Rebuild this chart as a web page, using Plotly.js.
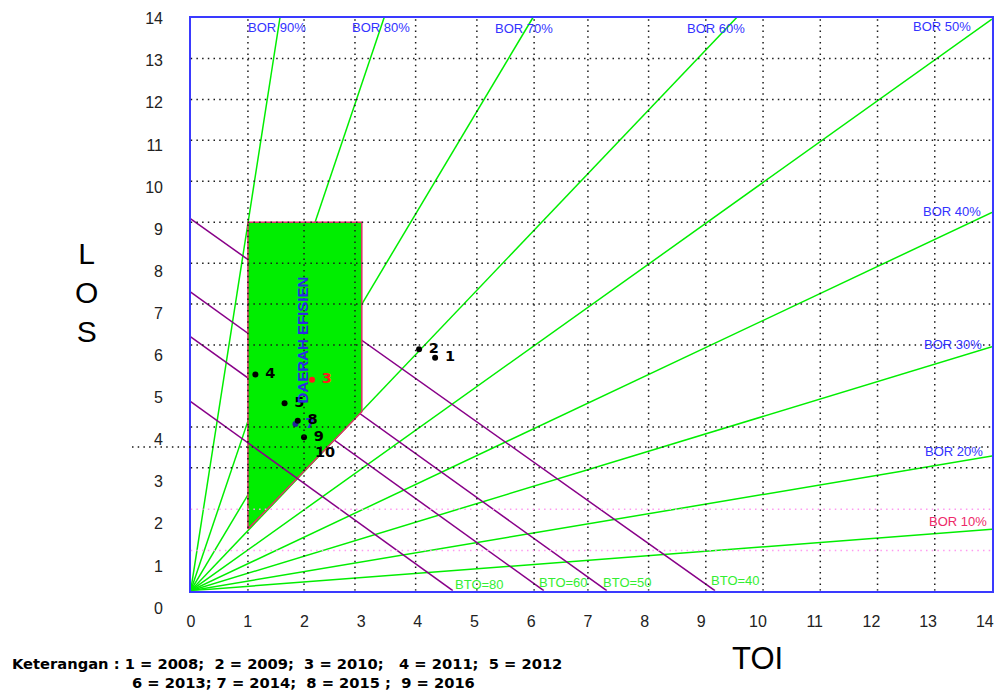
<!DOCTYPE html>
<html>
<head>
<meta charset="utf-8">
<script src="https://cdn.plot.ly/plotly-3.0.1.min.js"></script>
<style>
  html, body { margin: 0; padding: 0; background: #fff; }
  #chart { width: 1001px; height: 691px; }
</style>
</head>
<body>
<div id="chart"></div>
<script>
// ---- Data (Barber-Johnson graph) ----
const borNames  = ['BOR 90%', 'BOR 80%', 'BOR 70%', 'BOR 60%', 'BOR 50%', 'BOR 40%', 'BOR 30%', 'BOR 20%', 'BOR 10%'];
const borEndTOI = [1.56, 3.38, 5.98, 9.54, 14, 14, 14, 14, 14];
const borEndLOS = [14, 14, 14, 14, 13.96, 9.24, 5.96, 3.29, 1.50];
const borLabelTOI = [1.51, 3.32, 5.82, 9.18, 13.13, 13.30, 13.32, 13.34, 13.41];
const borLabelLOS = [13.75, 13.75, 13.72, 13.74, 13.77, 9.26, 6.02, 3.40, 1.69];

const btoNames  = ['BTO=40', 'BTO=50', 'BTO=60', 'BTO=80'];
const btoLOSat0 = [9.08, 7.29, 6.20, 4.62];
const btoTOIat0 = [9.16, 7.27, 6.17, 4.58];
const btoLabelTOI = [9.51, 7.64, 6.52, 5.04];
const btoLabelLOS = [0.24, 0.21, 0.19, 0.14];

const efisienTOI = [1.0, 1.0, 2.99, 2.99, 1.0];
const efisienLOS = [1.51, 9.0, 9.0, 4.37, 1.51];

const pointLabels = ['1', '2', '3', '4', '5', '7', '8', '9', '10'];
const pointTOI = [4.27, 3.99, 2.12, 1.13, 1.64, 1.83, 1.87, 1.98, 2.00];
const pointLOS = [5.69, 5.90, 5.15, 5.28, 4.58, 4.07, 4.15, 3.75, 3.36];

const gridTOI = [1, 1.98, 2.87, 3.93, 5, 6, 6.94, 8, 9, 10, 11, 12, 13];
const gridLOS = [3, 4, 6, 7, 8, 9, 10, 11, 12, 13];
const pinkGridLOS = [0.98, 1.99];
const extraGridLOS = [3.51];

const tickValues = [0, 1, 2, 3, 4, 5, 6, 7, 8, 9, 10, 11, 12, 13, 14];
const tickLabels = ['0', '1', '2', '3', '4', '5', '6', '7', '8', '9', '10', '11', '12', '13', '14'];

const keteranganLine1 = 'Keterangan : 1 = 2008;  2 = 2009;  3 = 2010;   4 = 2011;  5 = 2012';
const keteranganLine2 = '6 = 2013; 7 = 2014;  8 = 2015 ;  9 = 2016';

// ---- Styles ----
const W = 1001, H = 691;
const px = v => v / W;
const py = v => 1 - v / H;
const GREEN = '#00ee00';
const PURPLE = '#880088';
const BLUE = '#3333ff';
const nb = s => s.replace(/ /g, '\u00A0');

const traces = [];

// BOR lines from origin
borNames.forEach((n, i) => {
  traces.push({
    x: [0, borEndTOI[i]], y: [0, borEndLOS[i]],
    mode: 'lines', line: { color: GREEN, width: 1.5 },
    hoverinfo: 'skip', showlegend: false, name: n
  });
});

// BTO lines hidden under the efficient area (40, 50, 60)
btoNames.forEach((n, i) => {
  if (n === 'BTO=80') return;
  traces.push({
    x: [0, btoTOIat0[i]], y: [btoLOSat0[i], 0],
    mode: 'lines', line: { color: PURPLE, width: 1.5 },
    hoverinfo: 'skip', showlegend: false, name: n
  });
});

// Efficient area
traces.push({
  x: efisienTOI, y: efisienLOS, mode: 'lines', fill: 'toself',
  fillcolor: GREEN, line: { color: '#e0306a', width: 1.5 },
  hoverinfo: 'skip', showlegend: false, name: 'Daerah Efisien'
});

// BTO=80 line drawn over the area
btoNames.forEach((n, i) => {
  if (n !== 'BTO=80') return;
  traces.push({
    x: [0, btoTOIat0[i]], y: [btoLOSat0[i], 0],
    mode: 'lines', line: { color: PURPLE, width: 1.5 },
    hoverinfo: 'skip', showlegend: false, name: n
  });
});

// Points
const markerColor = pointLabels.map(l => l === '3' ? '#ff1a1a' : (l === '7' ? '#22229a' : (l === '10' ? 'rgba(0,0,0,0)' : '#000000')));
const textColor = pointLabels.map(l => l === '3' ? '#ff1a1a' : (l === '7' ? '#3333cc' : '#000000'));
traces.push({
  x: pointTOI, y: pointLOS, text: pointLabels,
  mode: 'markers+text', textposition: 'middle right',
  marker: { size: 6, color: markerColor },
  textfont: { family: 'DejaVu Sans', size: 14.5, color: textColor, weight: 'bold' },
  texttemplate: '<b>\u00A0%{text}</b>',
  hoverinfo: 'x+y+text', showlegend: false, name: 'Tahun'
});

// Empty trace for the tick-label subplot
traces.push({ x: [], y: [], xaxis: 'x2', yaxis: 'y2', showlegend: false, hoverinfo: 'skip' });

// Gridlines (above the area) as shapes
const shapes = [];
const dotted = { color: '#1a1a1a', width: 1.5, dash: '1.5px,4.2px' };
gridTOI.forEach(v => shapes.push({ type: 'line', xref: 'x', yref: 'y', x0: v, x1: v, y0: 0, y1: 14, line: dotted, layer: 'above' }));
gridLOS.forEach(v => shapes.push({ type: 'line', xref: 'x', yref: 'y', x0: 0, x1: 14, y0: v, y1: v, line: dotted, layer: 'above' }));
extraGridLOS.forEach(v => shapes.push({ type: 'line', xref: 'paper', yref: 'y', x0: px(132), x1: px(992), y0: v, y1: v, line: dotted, layer: 'above' }));
pinkGridLOS.forEach(v => shapes.push({ type: 'line', xref: 'x', yref: 'y', x0: 0, x1: 14, y0: v, y1: v, line: { color: '#ff99f0', width: 1.5, dash: '1.5px,4.2px' }, layer: 'above' }));

// Annotations
const annotations = [];
borNames.forEach((n, i) => annotations.push({
  x: borLabelTOI[i], y: borLabelLOS[i], xref: 'x', yref: 'y', text: n, showarrow: false,
  xanchor: 'center', yanchor: 'middle',
  font: { family: 'Liberation Sans, Arial', size: 13, color: n === 'BOR 10%' ? '#ee2a6a' : BLUE }
}));
btoNames.forEach((n, i) => annotations.push({
  x: btoLabelTOI[i], y: btoLabelLOS[i], xref: 'x', yref: 'y', text: n, showarrow: false,
  xanchor: 'center', yanchor: 'middle',
  font: { family: 'Liberation Sans, Arial', size: 13, color: '#33ee33' }
}));
annotations.push({
  x: 1.95, y: 6.12, xref: 'x', yref: 'y', text: '<b>DAERAH EFISIEN</b>', textangle: -90, showarrow: false,
  xanchor: 'center', yanchor: 'middle',
  font: { family: 'Liberation Sans, Arial', size: 15, color: '#2a2ae6' }
});
annotations.push({
  x: px(757), y: py(658), xref: 'paper', yref: 'paper', xanchor: 'center', yanchor: 'middle',
  text: 'TOI', showarrow: false,
  font: { family: 'Liberation Sans, Arial', size: 31, color: '#000' }
});
annotations.push({
  x: px(86), y: py(292), xref: 'paper', yref: 'paper', xanchor: 'center', yanchor: 'middle',
  text: 'L<br>O<br>S', showarrow: false,
  font: { family: 'Liberation Sans, Arial', size: 30, color: '#000' }
});
annotations.push({
  x: px(10), y: py(663), xref: 'paper', yref: 'paper', xanchor: 'left', yanchor: 'middle',
  text: '<b>' + nb(keteranganLine1) + '</b>', showarrow: false,
  font: { family: 'DejaVu Sans', size: 14.7, color: '#000' }
});
annotations.push({
  x: px(130), y: py(682), xref: 'paper', yref: 'paper', xanchor: 'left', yanchor: 'middle',
  text: '<b>' + nb(keteranganLine2) + '</b>', showarrow: false,
  font: { family: 'DejaVu Sans', size: 14.7, color: '#000' }
});

const layout = {
  width: W, height: H,
  margin: { l: 0, r: 0, t: 0, b: 0 },
  paper_bgcolor: '#ffffff', plot_bgcolor: 'rgba(0,0,0,0)',
  showlegend: false,
  xaxis: {
    domain: [px(190.7), px(992)], range: [0, 14], showgrid: false, zeroline: false,
    showticklabels: false, ticks: '', showline: true, mirror: true, linecolor: '#3a3aff', linewidth: 2, fixedrange: true
  },
  yaxis: {
    domain: [py(590.7), py(17.5)], range: [0, 14], showgrid: false, zeroline: false,
    showticklabels: false, ticks: '', showline: true, mirror: true, linecolor: '#3a3aff', linewidth: 2, fixedrange: true
  },
  xaxis2: {
    domain: [px(191), px(984.8)], range: [0, 14], anchor: 'y2', showgrid: false, zeroline: false, showline: false,
    tickmode: 'array', tickvals: tickValues, ticktext: tickLabels, ticks: '', ticklabelstandoff: 2,
    tickfont: { family: 'Liberation Sans, Arial', size: 16, color: '#222' }, fixedrange: true
  },
  yaxis2: {
    domain: [py(608), py(18.6)], range: [0, 14], anchor: 'x2', showgrid: false, zeroline: false, showline: false,
    tickmode: 'array', tickvals: tickValues, ticktext: tickLabels, ticks: '', ticklabelstandoff: 27,
    tickfont: { family: 'Liberation Sans, Arial', size: 16, color: '#222' }, fixedrange: true
  },
  shapes: shapes,
  annotations: annotations
};

Plotly.newPlot('chart', traces, layout, { displayModeBar: false, staticPlot: true });
</script>
</body>
</html>
